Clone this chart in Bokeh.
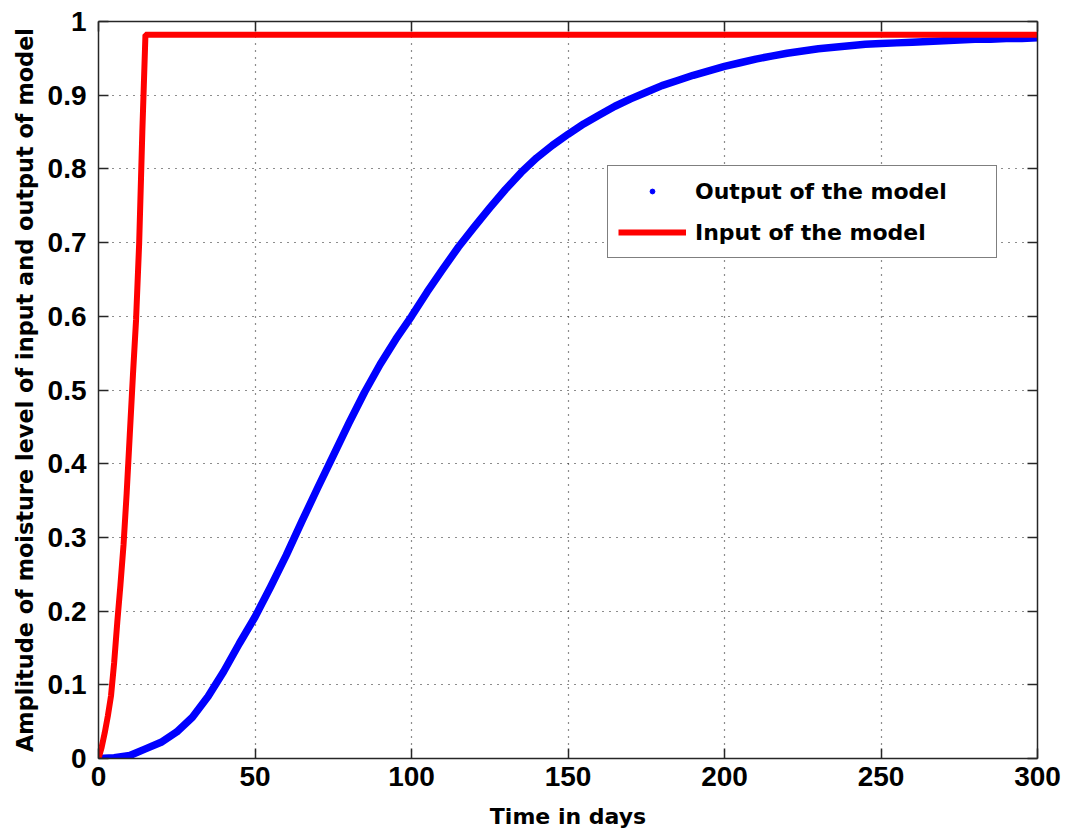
from bokeh.plotting import figure
from bokeh.models import Range1d, FixedTicker, LinearAxis, Legend, LegendItem
from bokeh.embed import file_html
from bokeh.resources import INLINE

# Model output (moisture amplitude), sampled every 5 days
output_days = [0, 5, 10, 15, 20, 25, 30, 35, 40, 45, 50, 55, 60, 65, 70, 75, 80,
               85, 90, 95, 100, 105, 110, 115, 120, 125, 130, 135, 140, 145, 150,
               155, 160, 165, 170, 175, 180, 185, 190, 195, 200, 205, 210, 215,
               220, 225, 230, 235, 240, 245, 250, 255, 260, 265, 270, 275, 280,
               285, 290, 295, 300]
output_level = [0.000, 0.001, 0.004, 0.013, 0.022, 0.036, 0.056, 0.084, 0.118,
                0.156, 0.192, 0.233, 0.276, 0.322, 0.367, 0.411, 0.455, 0.497,
                0.535, 0.569, 0.600, 0.633, 0.664, 0.694, 0.721, 0.747, 0.772,
                0.795, 0.815, 0.832, 0.847, 0.861, 0.873, 0.885, 0.895, 0.904,
                0.913, 0.920, 0.927, 0.933, 0.939, 0.944, 0.949, 0.953, 0.957,
                0.960, 0.963, 0.965, 0.967, 0.969, 0.970, 0.971, 0.972, 0.973,
                0.974, 0.975, 0.976, 0.976, 0.977, 0.977, 0.978]

# Model input: rises over the first ~15 days, then held constant
input_days = [0, 1, 2, 3, 4, 5, 6, 7, 8, 9, 10, 11, 12, 13, 14, 15, 300]
input_level = [0.000, 0.015, 0.035, 0.058, 0.085, 0.130, 0.185, 0.235, 0.290,
               0.360, 0.440, 0.520, 0.595, 0.700, 0.850, 0.982, 0.982]

x_ticks = [0, 50, 100, 150, 200, 250, 300]
x_tick_labels = ["0", "50", "100", "150", "200", "250", "300"]
y_ticks = [0, 0.1, 0.2, 0.3, 0.4, 0.5, 0.6, 0.7, 0.8, 0.9, 1]
y_tick_labels = ["0", "0.1", "0.2", "0.3", "0.4", "0.5", "0.6", "0.7", "0.8",
                 "0.9", "1"]

AXIS_COLOR = "#262626"
TICK_FONT = "Liberation Sans"
TEXT_FONT = "DejaVu Sans"

p = figure(width=1067, height=834, output_backend="svg", toolbar_location=None,
           x_range=Range1d(0, 300), y_range=Range1d(0, 1),
           min_border_left=98, min_border_right=30,
           min_border_top=21, min_border_bottom=76,
           background_fill_color="white", border_fill_color="white")
p.outline_line_color = None

# dotted grid at every major tick
for g in (p.xgrid, p.ygrid):
    g.grid_line_color = "#1a1a1a"
    g.grid_line_dash = "1 6"
    g.grid_line_width = 1.2
p.xgrid.ticker = FixedTicker(ticks=x_ticks)
p.ygrid.ticker = FixedTicker(ticks=y_ticks)


def style_axis_line(ax):
    ax.axis_line_color = AXIS_COLOR
    ax.axis_line_width = 1.5
    ax.major_tick_line_color = AXIS_COLOR
    ax.major_tick_line_width = 1.5
    ax.major_tick_in = 10
    ax.major_tick_out = 0


def labelled_axis(ax, ticks, labels):
    ax.ticker = FixedTicker(ticks=ticks)
    ax.major_label_overrides = dict(zip(ticks, labels))
    style_axis_line(ax)
    ax.minor_tick_line_color = None
    ax.major_label_text_font = TICK_FONT
    ax.major_label_text_font_style = "bold"
    ax.major_label_text_font_size = "28px"
    ax.major_label_text_color = "black"
    ax.axis_label_text_font = TEXT_FONT
    ax.axis_label_text_font_style = "bold"
    ax.axis_label_text_font_size = "22px"
    ax.axis_label_text_color = "black"


def plain_axis(ticks):
    # tick marks only (drawn as minor ticks, so no labels are produced)
    ax = LinearAxis(ticker=FixedTicker(ticks=[], minor_ticks=ticks))
    style_axis_line(ax)
    ax.minor_tick_line_color = AXIS_COLOR
    ax.minor_tick_line_width = 1.5
    ax.minor_tick_in = 10
    ax.minor_tick_out = 0
    ax.major_label_standoff = 0
    return ax


labelled_axis(p.xaxis[0], x_ticks, x_tick_labels)
labelled_axis(p.yaxis[0], y_ticks, y_tick_labels)
p.xaxis[0].major_label_standoff = 8
p.yaxis[0].major_label_standoff = 12
p.xaxis[0].axis_label = "Time in days"
p.xaxis[0].axis_label_standoff = 15
p.yaxis[0].axis_label = "Amplitude of moisture level of input and output of model"
p.yaxis[0].axis_label_text_font_size = "22.4px"
p.yaxis[0].axis_label_standoff = 7

# closed box: tick-only axes on the top and right sides
p.add_layout(plain_axis(x_ticks), "above")
p.add_layout(plain_axis(y_ticks), "right")

# series
out_line = p.line(output_days, output_level, line_color="#0000ff", line_width=7.5,
                  line_join="round", line_cap="round")
out_dots = p.scatter(output_days, output_level, marker="circle", size=5,
                     fill_color="#0000ff", line_color="#0000ff")
in_line = p.line(input_days, input_level, line_color="#ff0000", line_width=6)

legend = Legend(items=[LegendItem(label="Output of the model", renderers=[out_dots]),
                       LegendItem(label="Input of the model", renderers=[in_line])],
                location=(509, 500))
legend.label_text_font = TEXT_FONT
legend.label_text_font_style = "bold"
legend.label_text_font_size = "22px"
legend.label_text_color = "black"
legend.glyph_width = 68
legend.glyph_height = 12
legend.label_height = 30
legend.label_width = 291
legend.label_standoff = 9
legend.padding = 10
legend.spacing = 11
legend.margin = 0
legend.border_line_color = "black"
legend.border_line_width = 1.5
legend.background_fill_color = "white"
legend.background_fill_alpha = 1
p.add_layout(legend)

open("out.html", "w").write(file_html(p, INLINE))
